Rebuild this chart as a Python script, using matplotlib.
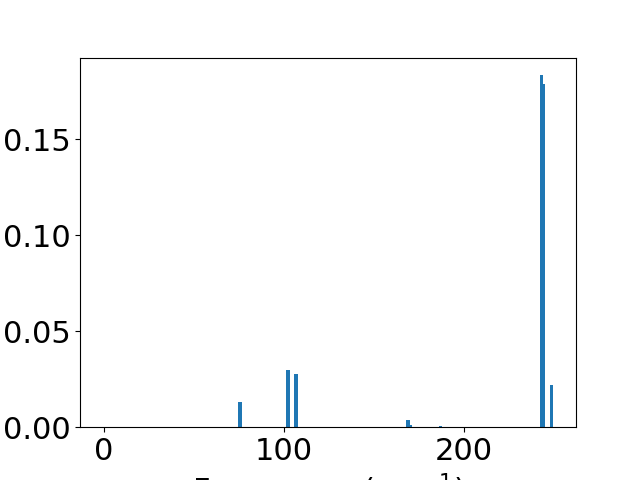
import numpy as np
import matplotlib.pyplot as plt

# frequencies (cm^-1) and intensities
freq = [0, 75.6, 102.2, 106.7, 168.9, 170.0, 186.7, 242.8, 243.6, 248.5]
inten = [0.0, 0.0130, 0.0297, 0.0276, 0.0036, 0.0010, 0.0005, 0.1833, 0.1786, 0.0219]

plt.rcParams['font.size'] = 22

fig, ax = plt.subplots(figsize=(6.4, 4.8), dpi=100)
ax.bar(freq, inten, width=2.0)
ax.set_xlim(-13.3, 262)
ax.set_xticks([0, 100, 200])
ax.set_yticks([0.0, 0.05, 0.10, 0.15])
ax.set_xlabel("Frequency (cm$^{-1}$)")

fig.savefig("out.png")
